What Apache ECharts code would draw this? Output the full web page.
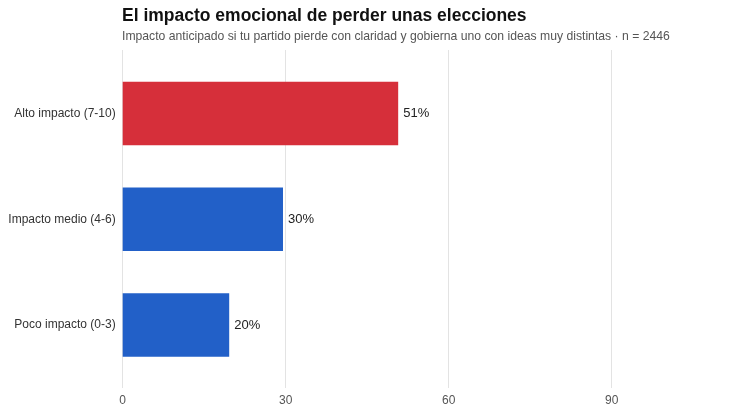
<!DOCTYPE html>
<html>
<head>
<meta charset="utf-8">
<script src="https://cdn.jsdelivr.net/npm/echarts@6/dist/echarts.min.js"></script>
<style>
  html, body { margin: 0; padding: 0; background: #fff; }
  #chart { width: 754px; height: 415px; }
</style>
</head>
<body>
<div id="chart"></div>
<script>
const categories = ['Alto impacto (7-10)', 'Impacto medio (4-6)', 'Poco impacto (0-3)']
const values = [50.7, 29.5, 19.6]
const barColors = ['#d62f3a', '#2260c8', '#2260c8']
const xTicks = [0, 30, 60, 90]

const axisMax = 110
const fontFamily = '"Liberation Sans", Arial, Helvetica, sans-serif'

const chart = echarts.init(document.getElementById('chart'))

chart.setOption({
  animation: false,
  textStyle: { fontFamily: fontFamily },
  title: [
    {
      text: 'El impacto emocional de perder unas elecciones',
      left: 122,
      top: 7,
      padding: 0,
      textStyle: { fontSize: 17.5, fontWeight: 'bold', color: '#111' }
    },
    {
      text: 'Impacto anticipado si tu partido pierde con claridad y gobierna uno con ideas muy distintas · n = 2446',
      left: 122,
      top: 30.5,
      padding: 0,
      textStyle: { fontSize: 12.2, fontWeight: 'normal', color: '#555' }
    }
  ],
  grid: [
    // bars
    { left: 122.7, right: 33.6, top: 60.5, bottom: 415 - 378 },
    // grid lines + tick labels (taller than the bar band)
    { left: 122.7, right: 33.6, top: 50, bottom: 415 - 388 }
  ],
  xAxis: [
    {
      gridIndex: 0,
      type: 'value',
      min: 0,
      max: axisMax,
      interval: 30,
      show: false
    },
    {
      gridIndex: 1,
      type: 'value',
      min: 0,
      max: axisMax,
      interval: 30,
      axisLine: { show: false },
      axisTick: { show: false },
      axisLabel: {
        margin: 7,
        fontSize: 12,
        color: '#555',
        showMaxLabel: false,
        formatter: v => (xTicks.indexOf(v) >= 0 ? String(v) : '')
      },
      splitLine: {
        show: true,
        showMaxLine: false,
        lineStyle: { color: '#e3e3e3', width: 1 }
      }
    }
  ],
  yAxis: [
    {
      gridIndex: 0,
      type: 'category',
      inverse: true,
      data: categories,
      axisLine: { show: false },
      axisTick: { show: false },
      axisLabel: { margin: 7, fontSize: 12, color: '#333' }
    },
    {
      gridIndex: 1,
      type: 'value',
      show: false,
      min: 0,
      max: 1
    }
  ],
  series: [
    {
      type: 'bar',
      xAxisIndex: 0,
      yAxisIndex: 0,
      barWidth: '60%',
      data: values.map((v, i) => ({
        value: v,
        itemStyle: { color: barColors[i] }
      })),
      label: {
        show: true,
        position: 'right',
        distance: 5,
        fontSize: 13,
        color: '#222',
        formatter: p => Math.round(p.value) + '%'
      }
    }
  ]
})
</script>
</body>
</html>
